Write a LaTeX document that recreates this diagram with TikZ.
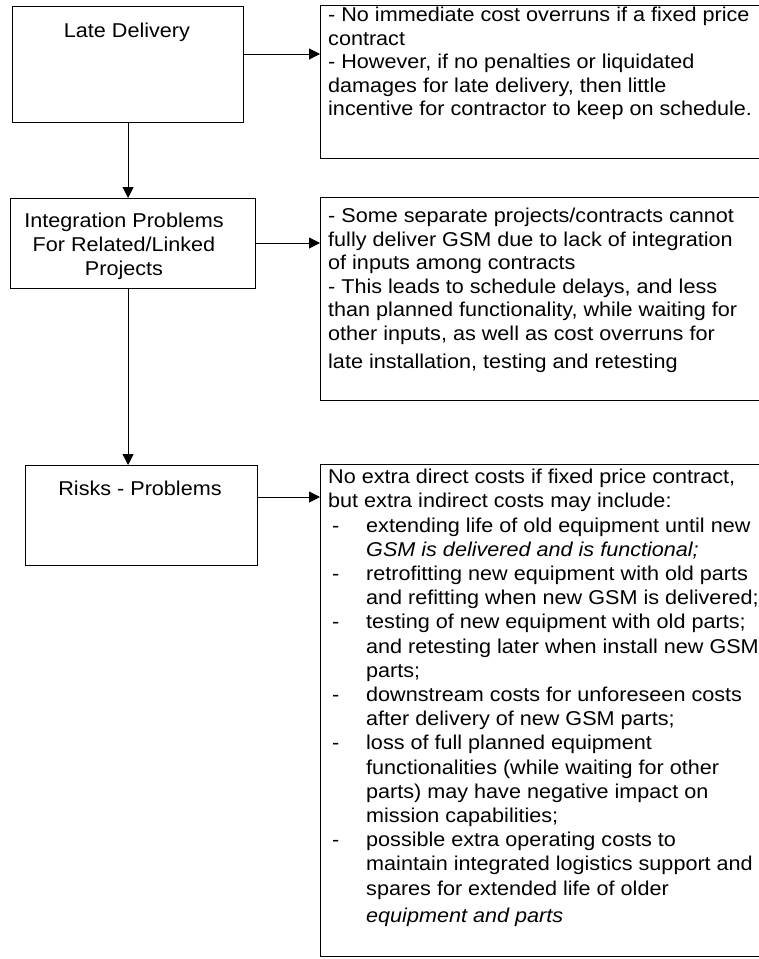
\documentclass[tikz,border=0pt]{standalone}
\usepackage{fontspec}
\setmainfont[FakeStretch=1.08]{Liberation Sans}
\usetikzlibrary{arrows.meta}
\newcommand\dashitem[1]{\makebox[38pt][l]{\hspace*{4pt}-}#1}
\newcommand\contitem[1]{\hspace*{38pt}#1}
\begin{document}
\begin{tikzpicture}[x=1pt,y=-1pt,
  box/.style={draw, line width=1.2pt, anchor=north west, inner sep=0pt},
  lbl/.style={font=\fontsize{20}{24}\selectfont, align=center, inner sep=0pt, anchor=north},
  txt/.style={font=\fontsize{20}{23.5}\selectfont, align=left, inner sep=0pt, anchor=north west},
  arr/.style={line width=1pt, -{Triangle[length=11pt,width=11pt]}}]
\useasboundingbox (0,0) rectangle (759,959);
\clip (0,0) rectangle (759,959);
% left boxes
\node[box, minimum width=231pt, minimum height=116pt] (LD) at (12,6) {};
\node[box, minimum width=245pt, minimum height=90pt] (IP) at (10,198) {};
\node[box, minimum width=232pt, minimum height=100pt] (RP) at (25,465) {};
% right boxes
\node[box, minimum width=480pt, minimum height=153pt] (R1) at (320,5) {};
\node[box, minimum width=480pt, minimum height=203pt] (R2) at (320,197) {};
\node[box, minimum width=480pt, minimum height=492pt] (R3) at (320,464) {};
% left labels
\node[lbl] (LDt) at (127,23) {Late Delivery};
\node[lbl] (IPt) at (124,213) {Integration Problems\\For Related/Linked\\Projects};
\node[lbl] (RPt) at (140,481) {Risks - Problems};
% right texts
\node[txt] (R1t) at (328,7) {- No immediate cost overruns if a fixed price\\contract\\- However, if no penalties or liquidated\\damages for late delivery, then little\\incentive for contractor to keep on schedule.};
\node[txt] (R2t) at (328,208) {- Some separate projects/contracts cannot\\fully deliver GSM due to lack of integration\\of inputs among contracts\\- This leads to schedule delays, and less\\than planned functionality, while waiting for\\other inputs, as well as cost overruns for\\[5pt]late installation, testing and retesting};
\node[txt, font=\fontsize{20}{24.2}\selectfont] (R3t) at (328,469) {No extra direct costs if fixed price contract,\\but extra indirect costs may include:\\
\dashitem{extending life of old equipment until new}\\
\contitem{\itshape GSM is delivered and is functional;}\\
\dashitem{retrofitting new equipment with old parts}\\
\contitem{and refitting when new GSM is delivered;}\\
\dashitem{testing of new equipment with old parts;}\\
\contitem{and retesting later when install new GSM}\\
\contitem{parts;}\\
\dashitem{downstream costs for unforeseen costs}\\
\contitem{after delivery of new GSM parts;}\\
\dashitem{loss of full planned equipment}\\
\contitem{functionalities (while waiting for other}\\
\contitem{parts) may have negative impact on}\\
\contitem{mission capabilities;}\\
\dashitem{possible extra operating costs to}\\
\contitem{maintain integrated logistics support and}\\
\contitem{spares for extended life of older}\\[3pt]
\contitem{\itshape equipment and parts}};
% connectors
\draw[arr] (LD.east |- 0,54) -- (R1.west |- 0,54);
\draw[arr] (IP.east |- 0,243) -- (R2.west |- 0,243);
\draw[arr] (RP.east |- 0,497) -- (R3.west |- 0,497);
\draw[arr] (LD.south) -- (LD.south |- IP.north);
\draw[arr] (LD.south |- IP.south) -- (LD.south |- RP.north);
\end{tikzpicture}
\end{document}
